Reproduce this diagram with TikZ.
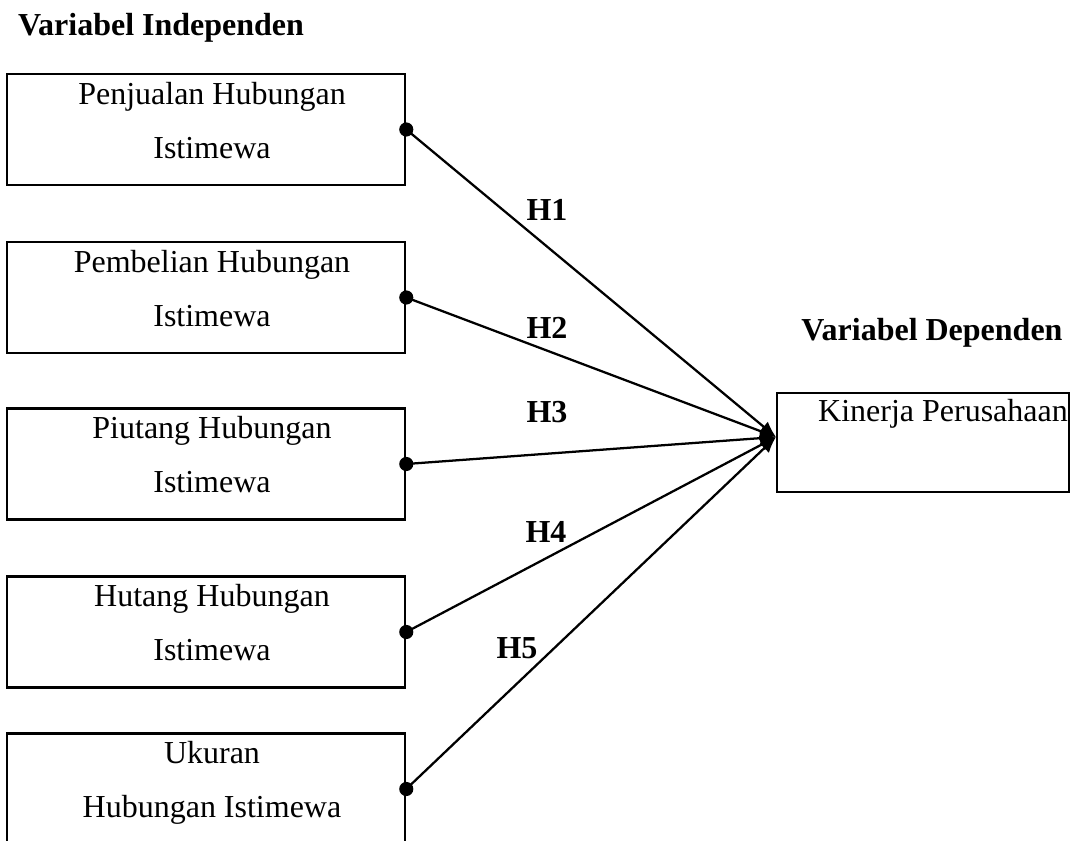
\documentclass[tikz,border=0pt]{standalone}
\usepackage{fontspec}
\setmainfont{Liberation Serif}
\usetikzlibrary{arrows.meta}
\begin{document}
\begin{tikzpicture}[x=0.75pt,y=-0.75pt,
  box/.style={draw, line width=1.9pt, minimum width=298.5pt, minimum height=83.25pt, inner sep=0pt},
  boxtxt/.style={align=center, font=\fontsize{24}{40.5}\selectfont, inner sep=0pt},
  hlbl/.style={font=\fontsize{24}{28}\selectfont\bfseries, inner sep=0pt},
  conn/.style={line width=1.7pt, -{Latex[length=12pt,width=10pt]}},
  dotc/.style={fill=black}]
\clip (0,0) rectangle (1075,841);
\useasboundingbox (0,0) rectangle (1075,841);

\node[hlbl] (indep) at (161,28) {Variabel Independen};
\node[hlbl] (dep) at (932,333) {Variabel Dependen};

\node[box] (b1) at (206,129.5) {};
\node[box] (b2) at (206,297.5) {};
\node[box] (b3) at (206,464) {};
\node[box] (b4) at (206,632) {};
\node[box] (b5) at (206,789) {};

\node[boxtxt] (t1) at (212,121) {Penjualan Hubungan\\Istimewa};
\node[boxtxt] (t2) at (212,289) {Pembelian Hubungan\\Istimewa};
\node[boxtxt] (t3) at (212,455) {Piutang Hubungan\\Istimewa};
\node[boxtxt] (t4) at (212,623) {Hutang Hubungan\\Istimewa};
\node[boxtxt] (t5) at (212,783) {Ukuran\\Hubungan Istimewa};

\node[draw, line width=1.9pt, minimum width=219pt, minimum height=74.25pt, inner sep=0pt] (kp) at (923,442.5) {};
\node[boxtxt] (kpt) at (943,414) {Kinerja Perusahaan};

\coordinate (tip) at (776,437);

\foreach \b in {b1,b2,b3,b4,b5}{
  \draw[conn] (\b.east) -- (tip);
  \fill[dotc] (\b.east) circle (5.3pt);
}

\node[hlbl] (h1) at (547,210) {H1};
\node[hlbl] (h2) at (547,328) {H2};
\node[hlbl] (h3) at (547,412) {H3};
\node[hlbl] (h4) at (546,532) {H4};
\node[hlbl] (h5) at (517,648) {H5};
\end{tikzpicture}
\end{document}
